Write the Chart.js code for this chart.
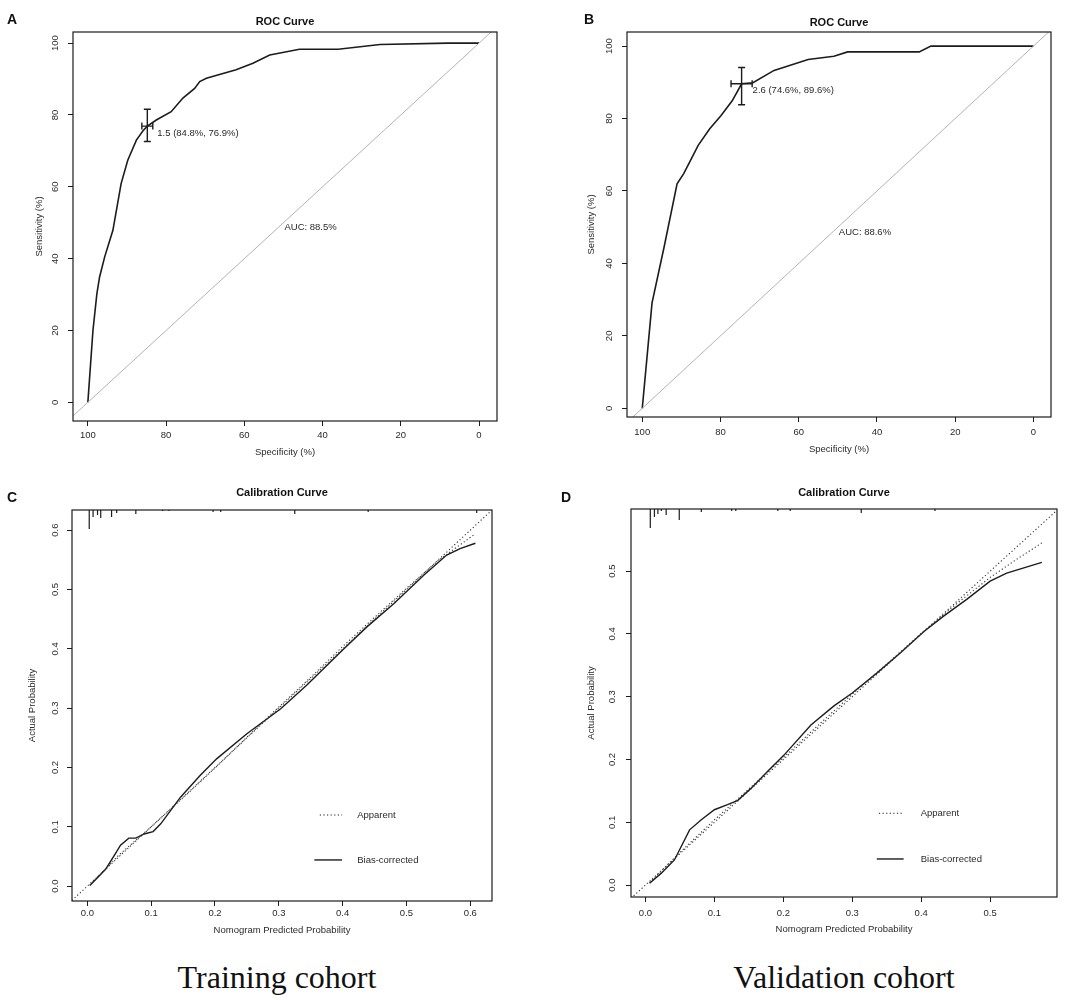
<!DOCTYPE html>
<html>
<head>
<meta charset="utf-8">
<script src="https://cdn.jsdelivr.net/npm/chart.js@4.4.1/dist/chart.umd.min.js"></script>
<style>
  body { margin: 0; background: #fff; }
  #wrap { position: relative; width: 1084px; height: 1000px; background: #fff; overflow: hidden; }
  canvas { position: absolute; }
  .cohort { position: absolute; width: 400px; text-align: center; font-family: "Liberation Serif", "DejaVu Serif", serif;
            font-size: 32px; line-height: 32px; color: #111; white-space: nowrap; }
</style>
</head>
<body>
<div id="wrap">
  <canvas id="cA" width="542" height="470" style="left:0;top:0"></canvas>
  <canvas id="cB" width="542" height="470" style="left:542px;top:0"></canvas>
  <canvas id="cC" width="542" height="480" style="left:0;top:470px"></canvas>
  <canvas id="cD" width="542" height="480" style="left:542px;top:470px"></canvas>
  <div class="cohort" style="left:77px;top:961px">Training cohort</div>
  <div class="cohort" style="left:644px;top:961px">Validation cohort</div>
</div>
<script>
// tick labels
const rocTicks = [0, 20, 40, 60, 80, 100];
const calTicksC = [0, 0.1, 0.2, 0.3, 0.4, 0.5, 0.6];
const calTicksD = [0, 0.1, 0.2, 0.3, 0.4, 0.5];

// ROC training (A): specificity / sensitivity, %
const specA = [100, 98.7, 97.7, 97.0, 95.7, 93.6, 91.5, 89.8, 87.6, 85.9, 84.8, 82.5, 78.7, 75.7, 72.7, 71.4, 69.7, 62.1, 57.8, 53.5, 45.9, 36.0, 25.3, 7.9, 0];
const sensA = [0, 20.0, 30.2, 34.9, 40.5, 47.9, 60.9, 67.4, 73.0, 75.6, 76.9, 78.6, 80.9, 84.7, 87.4, 89.3, 90.2, 92.6, 94.4, 96.7, 98.3, 98.3, 99.6, 100, 100];
const cutA = [84.8, 76.9];          // threshold point
const cutCiA = [86.2, 83.4, 72.6, 81.6]; // spec lo/hi, sens lo/hi
const aucA = 'AUC: 88.5%';
const cutTextA = '1.5 (84.8%, 76.9%)';

// ROC validation (B)
const specB = [100, 97.5, 94.4, 91.1, 89.4, 85.7, 82.8, 79.9, 77.0, 74.6, 71.7, 66.3, 57.6, 51.0, 47.5, 29.2, 26.2, 0];
const sensB = [0, 29.1, 44.6, 62.0, 64.8, 72.6, 77.1, 80.8, 84.9, 89.6, 89.9, 93.3, 96.3, 97.2, 98.4, 98.4, 100, 100];
const cutB = [74.6, 89.6];
const cutCiB = [77.3, 71.9, 83.8, 94.1];
const aucB = 'AUC: 88.6%';
const cutTextB = '2.6 (74.6%, 89.6%)';

// calibration training (C)
const predC = [0.004, 0.029, 0.044, 0.052, 0.065, 0.076, 0.089, 0.103, 0.115, 0.146, 0.177, 0.203, 0.250, 0.303, 0.344, 0.402, 0.438, 0.480, 0.527, 0.563, 0.584, 0.608];
const corrC = [0.001, 0.029, 0.055, 0.069, 0.081, 0.081, 0.088, 0.092, 0.105, 0.150, 0.187, 0.215, 0.257, 0.299, 0.339, 0.400, 0.437, 0.476, 0.524, 0.558, 0.569, 0.578];
const appXC = [0.004, 0.05, 0.1, 0.15, 0.2, 0.25, 0.3, 0.35, 0.4, 0.45, 0.5, 0.55, 0.608];
const appYC = [0.002, 0.053, 0.100, 0.149, 0.199, 0.251, 0.302, 0.352, 0.404, 0.453, 0.502, 0.549, 0.594];
const rugXC = [0.003, 0.009, 0.016, 0.021, 0.038, 0.046, 0.076, 0.118, 0.128, 0.197, 0.209, 0.325, 0.44, 0.61];
const rugNC = [19, 7, 5, 8, 7, 3, 4, 1, 1, 2, 2, 4, 2, 3];

// calibration validation (D)
const predD = [0.006, 0.023, 0.042, 0.064, 0.081, 0.100, 0.119, 0.134, 0.153, 0.177, 0.201, 0.240, 0.273, 0.300, 0.336, 0.370, 0.404, 0.432, 0.466, 0.500, 0.524, 0.575];
const corrD = [0.003, 0.019, 0.040, 0.088, 0.104, 0.120, 0.128, 0.135, 0.154, 0.181, 0.207, 0.255, 0.285, 0.306, 0.338, 0.370, 0.404, 0.428, 0.455, 0.484, 0.497, 0.514];
const appXD = [0.006, 0.05, 0.1, 0.15, 0.2, 0.25, 0.3, 0.35, 0.4, 0.45, 0.5, 0.54, 0.575];
const appYD = [0.004, 0.052, 0.104, 0.153, 0.203, 0.254, 0.304, 0.352, 0.401, 0.447, 0.490, 0.520, 0.545];
const rugXD = [0.007, 0.013, 0.018, 0.023, 0.030, 0.049, 0.081, 0.125, 0.131, 0.192, 0.210, 0.313, 0.420];
const rugND = [19, 8, 5, 2, 6, 11, 3, 2, 2, 2, 2, 4, 2];

const legendText = ['Apparent', 'Bias-corrected'];

const ink = '#1c1c1c';
const txt = '#2a2a2a';
const sans = '"Liberation Sans", Arial, Helvetica, sans-serif';
const pts = (xs, ys) => xs.map((v, i) => ({ x: v, y: ys[i] }));

// boxes, titles, rug, threshold marks, legend
const decor = {
  id: 'decor',
  afterDatasetsDraw(chart, args, o) {
    const { ctx, chartArea: a, scales: { x, y } } = chart;
    ctx.save();
    ctx.strokeStyle = ink;
    ctx.lineWidth = 1.2;
    ctx.setLineDash([]);
    ctx.strokeRect(a.left, a.top, a.right - a.left, a.bottom - a.top);

    ctx.fillStyle = '#111';
    ctx.textAlign = 'left';
    ctx.textBaseline = 'alphabetic';
    ctx.font = 'bold 14px ' + sans;
    ctx.fillText(o.letter, o.letterAt[0], o.letterAt[1]);
    ctx.textAlign = 'center';
    ctx.font = 'bold 11px ' + sans;
    ctx.fillText(o.title, (a.left + a.right) / 2, o.titleY);

    ctx.fillStyle = txt;
    ctx.font = '9.5px ' + sans;
    (o.notes || []).forEach(n => {
      ctx.textAlign = 'left';
      ctx.textBaseline = n.baseline;
      ctx.fillText(n.text, x.getPixelForValue(n.x) + n.dx, y.getPixelForValue(n.y) + n.dy);
    });

    if (o.cut) {
      const c = o.cut, h = 3.5;
      const px = x.getPixelForValue(c.at[0]), py = y.getPixelForValue(c.at[1]);
      const x0 = x.getPixelForValue(c.ci[0]), x1 = x.getPixelForValue(c.ci[1]);
      const y0 = y.getPixelForValue(c.ci[2]), y1 = y.getPixelForValue(c.ci[3]);
      ctx.strokeStyle = ink;
      ctx.lineWidth = 1.4;
      ctx.beginPath();
      ctx.moveTo(x0, py); ctx.lineTo(x1, py);
      ctx.moveTo(x0, py - h); ctx.lineTo(x0, py + h);
      ctx.moveTo(x1, py - h); ctx.lineTo(x1, py + h);
      ctx.moveTo(px, y0); ctx.lineTo(px, y1);
      ctx.moveTo(px - h, y0); ctx.lineTo(px + h, y0);
      ctx.moveTo(px - h, y1); ctx.lineTo(px + h, y1);
      ctx.stroke();
    }

    if (o.rug) {
      ctx.strokeStyle = ink;
      ctx.lineWidth = 1.2;
      ctx.beginPath();
      o.rug.xs.forEach((v, i) => {
        const px = x.getPixelForValue(v);
        ctx.moveTo(px, a.top);
        ctx.lineTo(px, a.top + o.rug.ns[i] * o.rug.k);
      });
      ctx.stroke();
    }

    if (o.legend) {
      const L = o.legend, w = a.right - a.left, hh = a.bottom - a.top;
      L.text.forEach((t, i) => {
        const ly = a.top + hh * L.rows[i];
        ctx.strokeStyle = ink;
        ctx.lineWidth = i ? 1.4 : 1.1;
        ctx.setLineDash(i ? [] : [1.2, 2.4]);
        ctx.beginPath();
        ctx.moveTo(a.left + w * L.x0[i], ly);
        ctx.lineTo(a.left + w * L.x1, ly);
        ctx.stroke();
        ctx.setLineDash([]);
        ctx.fillStyle = txt;
        ctx.textAlign = 'left';
        ctx.textBaseline = 'middle';
        ctx.fillText(t, a.left + w * L.tx, ly);
      });
    }
    ctx.restore();
  }
};

function panel(id, o) {
  const tickFont = { family: sans, size: 9.5 };
  return new Chart(document.getElementById(id), {
    type: 'scatter',
    data: { datasets: o.datasets },
    options: {
      responsive: false,
      animation: false,
      events: [],
      layout: { autoPadding: false, padding: { left: 0, top: o.pad[0], right: o.pad[1], bottom: 0 } },
      plugins: { legend: { display: false }, tooltip: { enabled: false }, decor: o.decor },
      scales: {
        x: {
          type: 'linear', min: o.x.range[0], max: o.x.range[1], reverse: !!o.x.reverse,
          afterBuildTicks: s => { s.ticks = o.x.ticks.map(v => ({ value: v })); },
          afterFit: s => { s.height = o.x.size; },
          grid: { drawOnChartArea: false, color: ink, tickLength: 5, lineWidth: 1 },
          border: { display: false },
          ticks: { font: tickFont, color: txt, padding: o.x.tickPad, maxRotation: 0, autoSkip: false, callback: o.fmt },
          title: { display: true, text: o.x.title, font: tickFont, color: txt, padding: { top: 0, bottom: o.x.titlePad } }
        },
        y: {
          type: 'linear', position: 'left', min: o.y.range[0], max: o.y.range[1],
          afterBuildTicks: s => { s.ticks = o.y.ticks.map(v => ({ value: v })); },
          afterFit: s => { s.width = o.y.size; },
          grid: { drawOnChartArea: false, color: ink, tickLength: 5, lineWidth: 1 },
          border: { display: false },
          ticks: { font: tickFont, color: txt, padding: o.y.tickPad, minRotation: 90, maxRotation: 90,
                   crossAlign: 'center', autoSkip: false, callback: o.fmt },
          title: { display: true, text: o.y.title, font: tickFont, color: txt, padding: { top: o.y.titlePad, bottom: 0 } }
        }
      }
    },
    plugins: [decor]
  });
}

const lineDs = (data, extra) => Object.assign({ data, showLine: true, pointRadius: 0, borderColor: ink,
  borderWidth: 1.5, tension: 0, fill: false }, extra);
const dotted = { borderDash: [1.2, 2.4], borderWidth: 1.1, borderColor: '#333' };

// A
const xrA = [-4.6, 103.8];
panel('cA', {
  pad: [32, 45],
  fmt: v => String(v),
  x: { range: xrA, reverse: true, ticks: rocTicks, size: 49, tickPad: 3.3, title: 'Specificity (%)', titlePad: 12.3 },
  y: { range: [-5.2, 103.1], ticks: rocTicks, size: 73, tickPad: 5.1, title: 'Sensitivity (%)', titlePad: 33.3 },
  datasets: [
    lineDs([{ x: xrA[1], y: 100 - xrA[1] }, { x: xrA[0], y: 100 - xrA[0] }], { borderColor: '#b3b3b3', borderWidth: 1 }),
    lineDs(pts(specA, sensA), { borderWidth: 1.6 })
  ],
  decor: {
    letter: 'A', letterAt: [7, 24], title: 'ROC Curve', titleY: 25,
    cut: { at: cutA, ci: cutCiA },
    notes: [
      { text: cutTextA, x: cutA[0], y: cutA[1], dx: 10, dy: 7, baseline: 'middle' },
      { text: aucA, x: 50, y: 50, dx: 1, dy: 0, baseline: 'top' }
    ]
  }
});

// B
const xrB = [-4.5, 103.9];
panel('cB', {
  pad: [32, 33],
  fmt: v => String(v),
  x: { range: xrB, reverse: true, ticks: rocTicks, size: 53, tickPad: 5, title: 'Specificity (%)', titlePad: 15.3 },
  y: { range: [-2.4, 103.9], ticks: rocTicks, size: 85, tickPad: 5.1, title: 'Sensitivity (%)', titlePad: 43.3 },
  datasets: [
    lineDs([{ x: xrB[1], y: 100 - xrB[1] }, { x: xrB[0], y: 100 - xrB[0] }], { borderColor: '#b3b3b3', borderWidth: 1 }),
    lineDs(pts(specB, sensB), { borderWidth: 1.6 })
  ],
  decor: {
    letter: 'B', letterAt: [42, 24], title: 'ROC Curve', titleY: 26,
    cut: { at: cutB, ci: cutCiB },
    notes: [
      { text: cutTextB, x: cutB[0], y: cutB[1], dx: 11, dy: 7, baseline: 'middle' },
      { text: aucB, x: 50, y: 50, dx: 1, dy: 0, baseline: 'top' }
    ]
  }
});

// C
const rC = [-0.024, 0.634];
panel('cC', {
  pad: [40, 50],
  fmt: v => v.toFixed(1),
  x: { range: rC, ticks: calTicksC, size: 49, tickPad: 2, title: 'Nomogram Predicted Probability', titlePad: 14.3 },
  y: { range: [-0.025, 0.634], ticks: calTicksC, size: 72, tickPad: 5.4, title: 'Actual Probability', titlePad: 26.3 },
  datasets: [
    lineDs([{ x: rC[0], y: rC[0] }, { x: rC[1], y: rC[1] }], dotted),
    lineDs(pts(appXC, appYC), dotted),
    lineDs(pts(predC, corrC), { borderWidth: 1.4 })
  ],
  decor: {
    letter: 'C', letterAt: [7, 32], title: 'Calibration Curve', titleY: 26,
    rug: { xs: rugXC, ns: rugNC, k: 1 },
    legend: { text: legendText, x0: [0.59, 0.577], x1: 0.643, tx: 0.679, rows: [0.78, 0.895] }
  }
});

// D
const rD = [-0.021, 0.597];
panel('cD', {
  pad: [39, 27],
  fmt: v => v.toFixed(1),
  x: { range: rD, ticks: calTicksD, size: 53, tickPad: 6, title: 'Nomogram Predicted Probability', titlePad: 15.3 },
  y: { range: [-0.019, 0.599], ticks: calTicksD, size: 89, tickPad: 7.4, title: 'Actual Probability', titlePad: 43.3 },
  datasets: [
    lineDs([{ x: rD[0], y: rD[0] }, { x: rD[1], y: rD[1] }], dotted),
    lineDs(pts(appXD, appYD), dotted),
    lineDs(pts(predD, corrD), { borderWidth: 1.4 })
  ],
  decor: {
    letter: 'D', letterAt: [19, 32], title: 'Calibration Curve', titleY: 26,
    rug: { xs: rugXD, ns: rugND, k: 1 },
    legend: { text: legendText, x0: [0.582, 0.577], x1: 0.64, tx: 0.68, rows: [0.784, 0.902] }
  }
});
</script>
</body>
</html>
